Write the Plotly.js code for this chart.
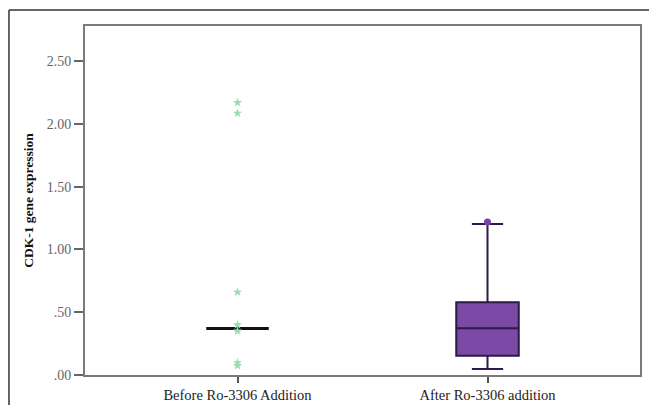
<!DOCTYPE html>
<html>
<head>
<meta charset="utf-8">
<script src="https://cdn.plot.ly/plotly-3.0.1.min.js"></script>
<style>
html,body{margin:0;padding:0;background:#fff;}
#chart{width:649px;height:405px;}
</style>
</head>
<body>
<div id="chart"></div>
<script>
const categories = ["Before Ro-3306 Addition", "After Ro-3306 addition"];
const q1 = [0.37, 0.154];
const median = [0.37, 0.372];
const q3 = [0.37, 0.579];
const lowerFence = [0.37, 0.048];
const upperFence = [0.37, 1.202];
const beforeExtremes = [2.17, 2.085, 0.66, 0.40, 0.35, 0.098, 0.075];
const afterOutliers = [1.218];
const yTickVals = [0, 0.5, 1.0, 1.5, 2.0, 2.5];
const yTickText = [".00", ".50", "1.00", "1.50", "2.00", "2.50"];

const boxLine = ["#111111", "#2e1a45"];
const boxLineWidth = [3, 2];
const boxFill = ["rgba(0,0,0,0)", "#7a4aa6"];

const traces = [];
for (let i = 0; i < categories.length; i++) {
  traces.push({
    type: "box",
    x: [categories[i]],
    q1: [q1[i]], median: [median[i]], q3: [q3[i]],
    lowerfence: [lowerFence[i]], upperfence: [upperFence[i]],
    width: 0.25,
    whiskerwidth: 0.5,
    fillcolor: boxFill[i],
    line: {color: boxLine[i], width: boxLineWidth[i]},
    boxpoints: false,
    hoverinfo: "skip",
    showlegend: false
  });
}
traces.push({
  type: "scatter", mode: "markers",
  x: beforeExtremes.map(() => categories[0]),
  y: beforeExtremes,
  marker: {symbol: "star", size: 7, color: "#95dcb0"},
  showlegend: false, hoverinfo: "skip"
});
traces.push({
  type: "scatter", mode: "markers",
  x: afterOutliers.map(() => categories[1]),
  y: afterOutliers,
  marker: {symbol: "circle", size: 7, color: "#7a3fa8"},
  showlegend: false, hoverinfo: "skip"
});

const layout = {
  width: 649, height: 405,
  margin: {l: 85, r: 9, t: 26, b: 30},
  paper_bgcolor: "#ffffff", plot_bgcolor: "#ffffff",
  font: {family: "Liberation Serif, Times New Roman, serif", color: "#333"},
  xaxis: {
    type: "category",
    range: [-0.61, 1.61],
    showgrid: false, zeroline: false,
    showline: true, linecolor: "#7a7a7a", linewidth: 2, mirror: true,
    ticks: "outside", ticklen: 6, tickwidth: 2, tickcolor: "#555",
    tickfont: {size: 14.5, color: "#222"}
  },
  yaxis: {
    range: [0, 2.78],
    tickvals: yTickVals, ticktext: yTickText,
    showgrid: false, zeroline: false,
    showline: true, linecolor: "#7a7a7a", linewidth: 2, mirror: true,
    ticks: "outside", ticklen: 9, tickwidth: 2, tickcolor: "#666",
    tickfont: {size: 14, color: "#666"},
    title: {text: "<b>CDK-1 gene expression</b>", font: {size: 13.5, color: "#111"}, standoff: 10}
  },
  shapes: [
    {type: "line", xref: "paper", yref: "paper", x0: -0.137, x1: 1.1, y0: 1.046, y1: 1.046, line: {color: "#333", width: 1.5}},
    {type: "line", xref: "paper", yref: "paper", x0: -0.137, x1: -0.137, y0: 1.046, y1: -0.1, line: {color: "#333", width: 1.5}}
  ]
};

Plotly.newPlot("chart", traces, layout, {displayModeBar: false, staticPlot: true});
</script>
</body>
</html>
